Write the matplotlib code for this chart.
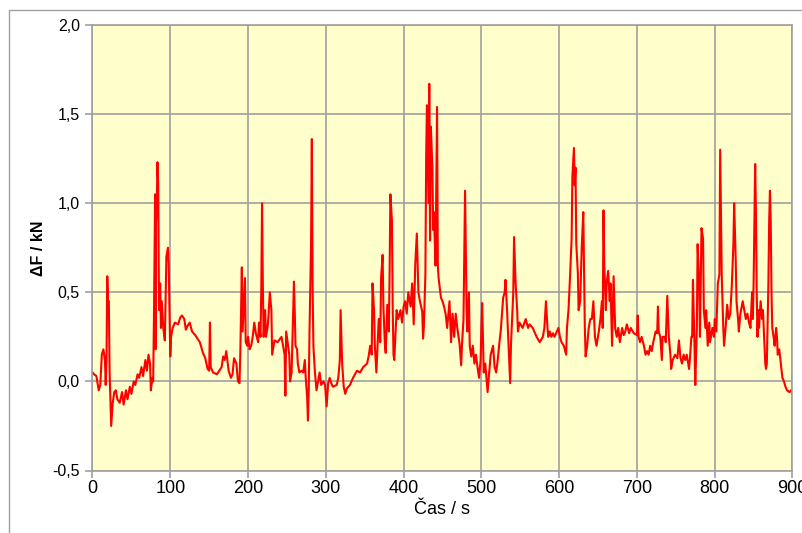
import matplotlib.pyplot as plt
from matplotlib.ticker import FuncFormatter
from matplotlib.patches import Rectangle

# cas v sekundach a zmena sily v kN
t_sec = [0, 2, 5, 8, 10, 12, 14, 16, 17, 18,
         19, 20, 21, 22, 24, 26, 28, 30, 32, 35,
         38, 40, 43, 45, 48, 50, 53, 55, 58, 60,
         63, 65, 68, 70, 72, 74, 75, 77, 78,
         79, 80, 80.5, 81, 81.5, 82.5, 83.5, 84.5, 85.5, 87,
         88, 89, 91, 93, 95, 97, 98, 99, 100, 101,
         103, 106, 110, 113, 115, 118, 120, 122, 125, 128,
         132, 135, 138, 140, 142, 145, 148, 150, 151, 152,
         155, 160, 163, 166, 168, 170, 172, 175, 178, 180,
         182, 185, 187, 189, 190, 192, 193, 195, 196, 197,
         199, 200, 202, 204, 206, 208, 210, 213, 214, 216,
         217, 218, 219, 220, 222, 223, 225, 226, 228, 230,
         231, 234, 238, 243, 245, 247, 248, 249, 253, 254,
         256, 258, 259, 260, 261, 263, 264, 266, 269, 271,
         273, 274, 276, 277, 278, 279, 281, 282, 283, 284,
         286, 288, 290, 292, 294, 297, 299, 301, 303, 305,
         307, 309, 314, 316, 318, 319, 321, 323, 325, 327,
         331, 335, 340, 344, 348, 353, 355, 357, 359, 360,
         362, 363, 365, 366, 368, 370, 371, 373, 374, 376,
         377, 379, 381, 382, 383, 385, 386, 387, 388, 390,
         391, 393, 396, 398, 400, 402, 404, 406, 409, 411,
         413, 415, 417, 419, 421, 424, 425, 426, 428, 429,
         430, 432, 433, 434, 435, 437, 438, 439, 441, 443,
         444, 445, 448, 450, 452, 454, 456, 459, 461, 463,
         465, 467, 469, 472, 474, 475, 477, 478, 479, 481,
         482, 484, 485, 487, 489, 491, 493, 495, 497, 499,
         500, 501, 503, 505, 508, 510, 512, 515, 517, 519,
         521, 523, 525, 528, 530, 531, 533, 535, 537, 538,
         541, 542, 544, 546, 547, 549, 553, 557, 560, 562,
         566, 571, 575, 579, 581, 583, 585, 586, 588, 590,
         592, 594, 597, 599, 601, 603, 606, 609, 610, 612,
         614, 616, 617, 619, 620, 621, 622, 624, 625, 627,
         629, 631, 632, 633, 634, 636, 638, 640, 642, 644,
         646, 648, 651, 653, 655, 656, 657, 658, 660, 661,
         663, 665, 666, 668, 670, 671, 672, 674, 676, 678,
         681, 683, 685, 687, 690, 692, 696, 700, 701, 702,
         704, 706, 709, 711, 713, 715, 717, 719, 721, 724,
         726, 727, 728, 730, 732, 733, 736, 737, 738, 739,
         741, 743, 744, 746, 749, 752, 754, 756, 758, 760,
         762, 764, 767, 768, 770, 771, 772, 774, 775, 777,
         778, 780, 781, 783, 785, 786, 788, 789, 791, 793,
         794, 797, 799, 800, 802, 804, 806, 807, 808, 809,
         811, 812, 814, 816, 818, 820, 822, 824, 825, 827,
         828, 830, 831, 833, 836, 838, 840, 842, 844, 846,
         848, 849, 850, 852, 853, 854, 855, 856, 857, 859,
         861, 862, 864, 865, 866, 867, 869, 870, 871, 872,
         873, 874, 876, 877, 879, 880, 881, 883, 885, 887,
         889, 891, 893, 896, 898, 900]

f_kN = [0.05, 0.04, 0.03, -0.05, -0.02, 0.15, 0.18, 0.12, -0.02, 0.12,
        0.59, 0.45, 0.45, 0.05, -0.25, -0.12, -0.06, -0.05, -0.1, -0.12,
        -0.06, -0.13, -0.05, -0.1, -0.03, -0.07, 0.0, -0.02, 0.04, 0.02,
        0.08, 0.03, 0.12, 0.06, 0.15, 0.1, -0.05, 0.02, 0.0,
        0.35, 0.85, 1.05, 0.18, 0.88, 0.95, 1.23, 1.1, 0.4, 0.55,
        0.3, 0.45, 0.3, 0.23, 0.7, 0.75, 0.65, 0.4, 0.14, 0.25,
        0.3, 0.33, 0.32, 0.36, 0.37, 0.35, 0.29, 0.31, 0.33, 0.28,
        0.26, 0.24, 0.22, 0.19, 0.16, 0.13, 0.07, 0.06, 0.33, 0.08,
        0.05, 0.04, 0.06, 0.08, 0.14, 0.12, 0.17, 0.06, 0.02, 0.04,
        0.13, 0.1, 0.0, -0.01, 0.15, 0.64, 0.28, 0.49, 0.58, 0.22,
        0.2, 0.25, 0.18, 0.2, 0.25, 0.33, 0.27, 0.22, 0.33, 0.25,
        0.52, 1.0, 0.55, 0.25, 0.4, 0.25, 0.3, 0.35, 0.5, 0.4,
        0.15, 0.23, 0.22, 0.25, 0.2, 0.15, -0.08, 0.28, 0.15, 0.0,
        0.05, 0.4, 0.56, 0.4, 0.2, 0.18, 0.1, 0.05, 0.06, 0.05,
        0.12, 0.03, -0.09, -0.22, -0.05, 0.28, 0.77, 1.36, 0.53, 0.2,
        0.05, -0.05, 0.0, 0.05, -0.02, 0.0, -0.02, -0.14, -0.01, 0.02,
        -0.01, -0.03, -0.02, 0.02, 0.12, 0.4, 0.1, -0.03, -0.07, -0.04,
        -0.02, 0.02, 0.06, 0.05, 0.08, 0.1, 0.14, 0.2, 0.15, 0.55,
        0.4, 0.2, 0.05, 0.15, 0.35, 0.22, 0.58, 0.71, 0.42, 0.2,
        0.16, 0.43, 0.28, 0.62, 1.05, 0.9, 0.4, 0.15, 0.12, 0.3,
        0.4, 0.35, 0.4, 0.33, 0.42, 0.45, 0.38, 0.5, 0.42, 0.55,
        0.32, 0.66, 0.83, 0.5, 0.45, 0.39, 0.24, 0.3, 0.6, 1.26,
        1.55, 1.0, 1.67, 0.79, 1.43, 1.2, 0.85, 0.95, 0.65, 1.54,
        0.65, 0.58, 0.47, 0.45, 0.42, 0.38, 0.3, 0.45, 0.22, 0.38,
        0.25, 0.38, 0.3, 0.21, 0.09, 0.2, 0.35, 0.71, 1.07, 0.4,
        0.28, 0.5, 0.2, 0.14, 0.2, 0.1, 0.15, 0.08, 0.02, 0.12,
        0.3, 0.44, 0.05, 0.1, -0.06, 0.05, 0.15, 0.2, 0.08, 0.05,
        0.12, 0.21, 0.29, 0.47, 0.5, 0.57, 0.4, 0.2, -0.01, 0.2,
        0.5, 0.81, 0.55, 0.4, 0.28, 0.33, 0.3, 0.35, 0.3, 0.32,
        0.3, 0.25, 0.22, 0.25, 0.3, 0.45, 0.3, 0.25, 0.28, 0.25,
        0.27, 0.25, 0.28, 0.3, 0.25, 0.22, 0.2, 0.15, 0.3, 0.4,
        0.59, 0.8, 1.15, 1.31, 1.1, 1.2, 0.77, 0.61, 0.4, 0.45,
        0.75, 0.95, 0.6, 0.3, 0.14, 0.2, 0.3, 0.35, 0.35, 0.45,
        0.25, 0.2, 0.28, 0.35, 0.45, 0.3, 0.96, 0.65, 0.4, 0.55,
        0.62, 0.45, 0.55, 0.2, 0.59, 0.45, 0.3, 0.25, 0.3, 0.22,
        0.3, 0.26, 0.28, 0.32, 0.27, 0.3, 0.27, 0.26, 0.37, 0.25,
        0.22, 0.25, 0.2, 0.15, 0.17, 0.15, 0.2, 0.17, 0.22, 0.28,
        0.27, 0.42, 0.28, 0.25, 0.12, 0.25, 0.25, 0.22, 0.35, 0.48,
        0.25, 0.15, 0.07, 0.12, 0.15, 0.13, 0.23, 0.13, 0.1, 0.15,
        0.12, 0.15, 0.07, 0.12, 0.25, 0.25, 0.57, 0.2, -0.02, 0.3,
        0.77, 0.55, 0.25, 0.86, 0.8, 0.4, 0.3, 0.4, 0.2, 0.33,
        0.22, 0.3, 0.25, 0.35, 0.28, 0.55, 0.6, 1.3, 0.95, 0.6,
        0.3, 0.2, 0.3, 0.43, 0.35, 0.38, 0.54, 0.77, 1.0, 0.68,
        0.45, 0.35, 0.28, 0.38, 0.45, 0.4, 0.35, 0.38, 0.33, 0.3,
        0.5, 0.35, 0.55, 1.22, 0.95, 0.5, 0.25, 0.4, 0.3, 0.45,
        0.35, 0.4, 0.2, 0.1, 0.07, 0.1, 0.55, 0.9, 1.07, 0.9,
        0.5, 0.3, 0.24, 0.2, 0.3, 0.25, 0.15, 0.18, 0.1, 0.02,
        0.0, -0.03, -0.05, -0.06, -0.05, -0.07]

x_ticks = [0, 100, 200, 300, 400, 500, 600, 700, 800, 900]
y_ticks = [-0.5, 0.0, 0.5, 1.0, 1.5, 2.0]

fig = plt.figure(figsize=(8.03, 5.33), dpi=100)
# tenky sedy ramecek kolem grafu
fig.patches.append(Rectangle((9/803, -0.02), 1.0, 1 - 10/533 + 0.02, transform=fig.transFigure,
                             fill=False, edgecolor='#a0a0a0', linewidth=1))
ax = fig.add_axes([92.5/803, 1 - 470.5/533, 700/803, 445.5/533])
ax.set_facecolor('#ffffcc')

ax.plot(t_sec, f_kN, color='#ff0000', linewidth=1.5)

ax.set_xlim(0, 900)
ax.set_ylim(-0.5, 2.0)
ax.set_xticks(x_ticks)
ax.set_yticks(y_ticks)
ax.yaxis.set_major_formatter(FuncFormatter(lambda v, p: f"{v:.1f}".replace('.', ',')))
ax.grid(True, color='#a0a0a0', linewidth=1.2)
ax.set_axisbelow(True)
for s in ax.spines.values():
    s.set_color('#a0a0a0')
    s.set_linewidth(1.2)
ax.tick_params(axis='both', color='#a0a0a0', length=5, width=1.2)
ax.tick_params(axis='x', labelsize=13, pad=2)
ax.tick_params(axis='y', labelsize=11.5, pad=4)
for lab in ax.get_xticklabels() + ax.get_yticklabels():
    lab.set_family(['Liberation Sans', 'DejaVu Sans'])

ax.set_xlabel('Čas / s', fontsize=13, family=['Liberation Sans', 'DejaVu Sans'], labelpad=3)
ax.set_ylabel('ΔF / kN', fontsize=11.5, fontweight='bold', family=['Liberation Sans', 'DejaVu Sans'], labelpad=5)

fig.savefig('out.png', dpi=100)
